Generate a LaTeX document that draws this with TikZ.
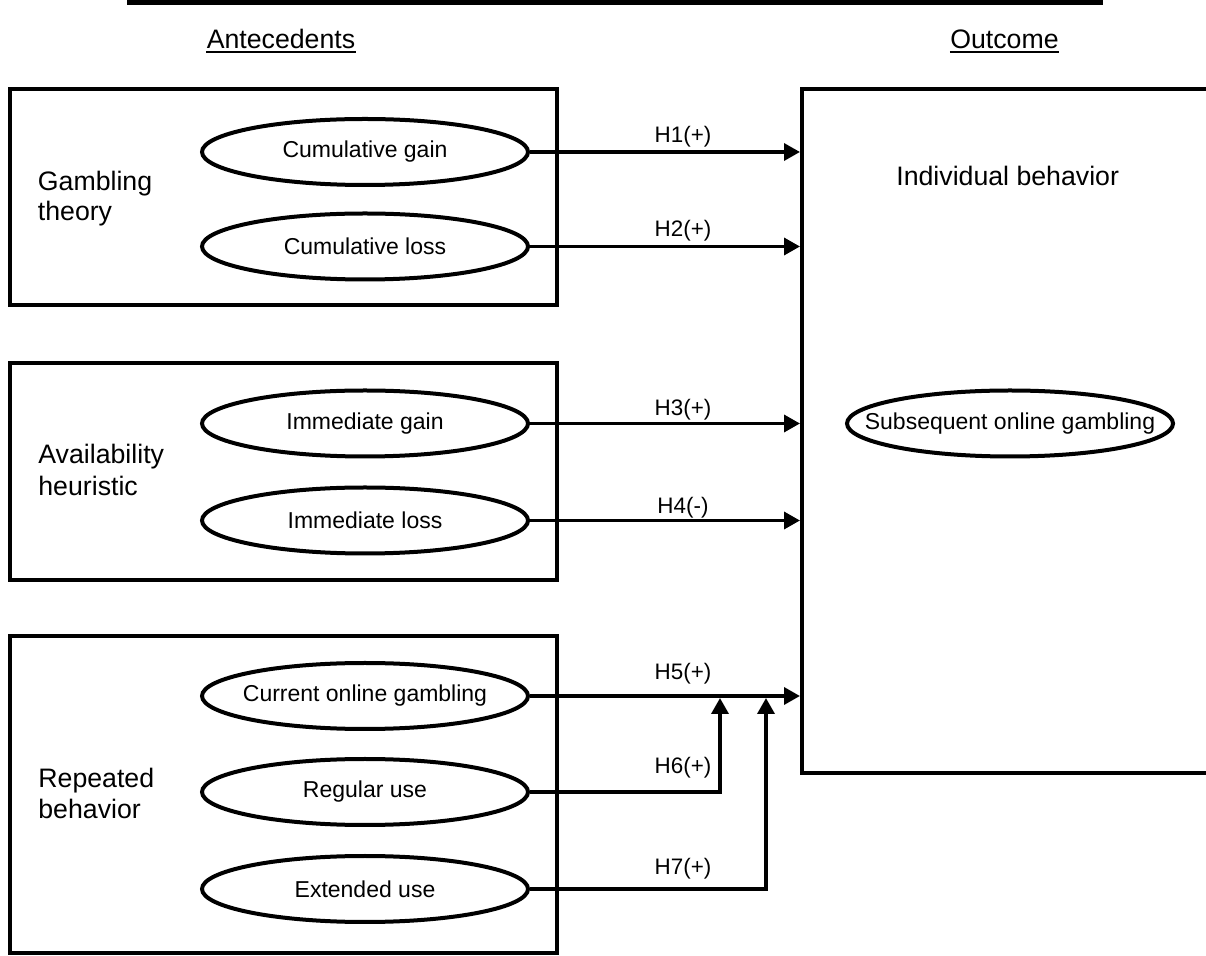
\documentclass[tikz,border=0pt]{standalone}
\usepackage{fontspec}
\setmainfont{Liberation Sans}
\usetikzlibrary{shapes.geometric,arrows.meta}
\begin{document}
\begin{tikzpicture}[x=0.5pt,y=-0.5pt,
  grp/.style={draw,line width=2pt,rectangle,inner sep=0pt},
  oval/.style={draw,line width=2pt,ellipse,inner ysep=0pt,inner xsep=-18pt,minimum width=163pt,minimum height=33pt,font=\fontsize{11.5}{13}\selectfont},
  big/.style={font=\fontsize{13.35}{15.5}\selectfont,inner sep=0pt},
  hl/.style={font=\fontsize{11.2}{13}\selectfont,inner sep=0pt,anchor=base},
  arr/.style={line width=1.75pt,-{Triangle[length=8pt,width=8.5pt]}}]
\useasboundingbox (0,0) rectangle (1206,956);
\clip (0,0) rectangle (1206,956);

% top rule
\coordinate (tl) at (127,2.4);
\coordinate (tr) at (1103,2.4);
\draw[line width=2.3pt] (tl) -- (tr);

% headings
\node[big,anchor=base] (ante) at (281,49) {Antecedents};
\draw[line width=1pt] ([yshift=-1.7pt]ante.base west) -- ([yshift=-1.7pt]ante.base east);
\node[big,anchor=base] (outc) at (1004.5,49) {Outcome};
\draw[line width=1pt] ([yshift=-1.7pt]outc.base west) -- ([yshift=-1.7pt]outc.base east);

% group boxes
\node[grp,minimum width=273.4pt,minimum height=108pt] (gt) at (283.6,197) {};
\node[grp,minimum width=273.4pt,minimum height=108.5pt] (ah) at (283.6,471.5) {};
\node[grp,minimum width=273.4pt,minimum height=158.5pt] (rb) at (283.6,794.5) {};
\node[grp,minimum width=214pt,minimum height=342pt] (outbox) at (1016,431) {};

% group labels
\node[big,anchor=base west] (g1a) at (37.5,191) {Gambling};
\node[big,anchor=base west] (g1b) at (37.5,221) {theory};
\node[big,anchor=base west] (g2a) at (38,464) {Availability};
\node[big,anchor=base west] (g2b) at (38,496) {heuristic};
\node[big,anchor=base west] (g3a) at (38,788) {Repeated};
\node[big,anchor=base west] (g3b) at (38,819) {behavior};

% ellipses
\node[oval] (e1) at (365,152) {Cumulative gain};
\node[oval] (e2) at (365,246.5) {Cumulative loss};
\node[oval] (e3) at (365,423.5) {Immediate gain};
\node[oval] (e4) at (365,520.5) {Immediate loss};
\node[oval] (e5) at (365,696) {Current online gambling};
\node[oval] (e6) at (365,792) {Regular use};
\node[oval] (e7) at (365,889) {Extended use};

% outcome
\node[big,anchor=base] (ib) at (1007.7,186) {Individual behavior};
\node[oval] (es) at (1010,423.5) {Subsequent online gambling};

% connectors
\draw[arr] (e1.east) -- (e1.east -| outbox.west);
\draw[arr] (e2.east) -- (e2.east -| outbox.west);
\draw[arr] (e3.east) -- (e3.east -| outbox.west);
\draw[arr] (e4.east) -- (e4.east -| outbox.west);
\draw[arr] (e5.east) -- (e5.east -| outbox.west);
\coordinate (j6) at (720,698);
\coordinate (j7) at (766,698);
\draw[arr] (e6.east) -| (j6);
\draw[arr] (e7.east) -| (j7);

% labels
\node[hl] (l1) at (683,143) {H1(+)};
\node[hl] (l2) at (683,237) {H2(+)};
\node[hl] (l3) at (683,416) {H3(+)};
\node[hl] (l4) at (683,514) {H4(-)};
\node[hl] (l5) at (683,680) {H5(+)};
\node[hl] (l6) at (683,774) {H6(+)};
\node[hl] (l7) at (683,875) {H7(+)};
\end{tikzpicture}
\end{document}
